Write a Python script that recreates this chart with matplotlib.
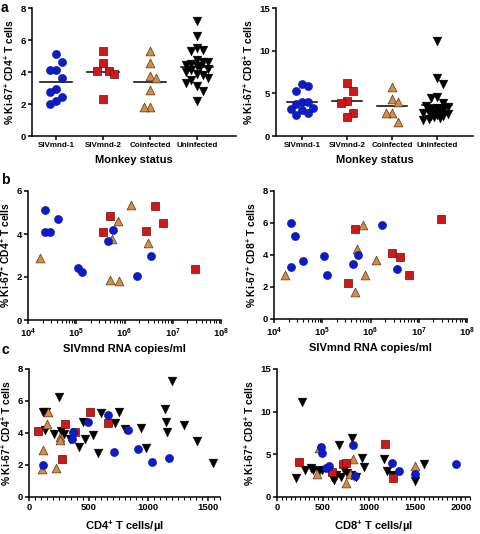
import numpy as np
import matplotlib
matplotlib.use("Agg")
import matplotlib.pyplot as plt
from matplotlib.ticker import MultipleLocator, FixedLocator, LogLocator, NullFormatter

plt.rcParams['font.family'] = ['Liberation Sans', 'DejaVu Sans']
plt.rcParams['font.weight'] = 'bold'
plt.rcParams['mathtext.fontset'] = 'custom'
plt.rcParams['mathtext.rm'] = 'Liberation Sans:bold'
plt.rcParams['mathtext.it'] = 'Liberation Sans:bold'
plt.rcParams['mathtext.bf'] = 'Liberation Sans:bold'
plt.rcParams['mathtext.default'] = 'rm'

# ---------------- data ----------------
groups = ["SIVmnd-1", "SIVmnd-2", "Coinfected", "Uninfected"]

# panel a: % Ki-67+ by monkey status
a_cd4_siv1 = [5.15, 4.65, 4.15, 4.1, 3.65, 2.95, 2.75, 2.45, 2.2, 2.0]
a_cd4_siv2 = [5.3, 4.55, 4.05, 4.05, 3.85, 2.3]
a_cd4_coinf = [5.3, 4.55, 3.75, 3.6, 2.85, 1.8, 1.8]
a_cd4_uninf = [7.2, 6.25, 5.5, 5.35, 5.3, 4.75, 4.65, 4.6, 4.5, 4.45, 4.35, 4.3,
               4.2, 4.1, 4.0, 3.9, 3.8, 3.65, 3.5, 3.3, 3.15, 2.8, 2.2]

a_cd8_siv1 = [6.05, 5.9, 5.25, 4.0, 4.0, 3.7, 3.3, 3.2, 3.1, 2.75, 2.45]
a_cd8_siv2 = [6.25, 5.3, 4.1, 3.85, 2.75, 2.25]
a_cd8_coinf = [5.75, 4.35, 3.95, 2.75, 2.75, 1.6]
a_cd8_uninf = [11.1, 6.8, 6.1, 4.6, 4.4, 3.9, 3.5, 3.4, 3.3, 3.2, 3.1, 3.0,
               2.9, 2.8, 2.7, 2.6, 2.5, 2.4, 2.3, 2.2, 2.1, 2.0, 1.9]

# panel b: vs SIVmnd RNA copies/ml
b_siv1_rna_cd4 = [2.3e4, 2.3e4, 2.8e4, 4.1e4, 1.1e5, 1.3e5, 4.6e5, 5.8e5, 1.8e6, 3.6e6]
b_siv1_cd4 = [5.13, 4.07, 4.1, 4.68, 2.44, 2.23, 3.66, 4.2, 2.04, 2.97]
b_siv2_rna_cd4 = [3.5e5, 5.0e5, 2.8e6, 4.2e6, 6.3e6, 2.95e7]
b_siv2_cd4 = [4.07, 4.84, 4.13, 5.3, 4.53, 2.35]
b_coinf_rna_cd4 = [1.74e4, 5.0e5, 5.6e5, 7.2e5, 7.7e5, 1.35e6, 3.1e6]
b_coinf_cd4 = [2.9, 1.85, 3.75, 4.6, 1.82, 5.36, 3.58]

b_siv1_rna_cd8 = [2.2e4, 2.7e4, 2.2e4, 3.9e4, 1.08e5, 1.26e5, 4.4e5, 5.6e5, 1.7e6, 3.5e6]
b_siv1_cd8 = [6.03, 5.18, 3.23, 3.63, 3.92, 2.78, 3.42, 4.0, 5.87, 3.13]
b_siv2_rna_cd8 = [3.35e5, 4.8e5, 2.76e6, 4.1e6, 6.3e6, 2.9e7]
b_siv2_cd8 = [2.24, 5.64, 4.1, 3.85, 2.76, 6.22]
b_coinf_rna_cd8 = [1.67e4, 4.8e5, 5.2e5, 6.9e5, 7.7e5, 1.28e6]
b_coinf_cd8 = [2.78, 1.66, 4.39, 5.89, 2.78, 3.69]

# panel c: vs absolute counts
c_siv1_cd4cnt = [115, 372, 364, 498, 658, 830, 716, 910, 1031, 1175]
c_siv1_cd4 = [1.99, 4.08, 3.62, 4.67, 5.13, 4.19, 2.79, 2.97, 2.18, 2.41]
c_siv2_cd4cnt = [72, 298, 278, 384, 512, 664]
c_siv2_cd4 = [4.12, 4.54, 2.35, 4.08, 5.32, 4.61]
c_coinf_cd4cnt = [106, 115, 155, 149, 229, 258, 258]
c_coinf_cd4 = [1.78, 2.91, 5.34, 4.56, 1.82, 3.77, 3.55]
c_uninf_cd4cnt = [120, 140, 134, 255, 206, 272, 292, 344, 421, 450, 470, 535, 578,
                  601, 721, 750, 802, 936, 979, 1140, 1150, 1160, 1200, 1300, 1410, 1540]
c_uninf_cd4 = [5.3, 5.3, 4.2, 6.25, 3.95, 4.1, 3.95, 3.62, 3.1, 4.67, 3.64, 3.9, 2.74,
               5.28, 4.63, 5.29, 4.23, 4.32, 3.04, 5.49, 4.71, 4.08, 7.22, 4.5, 3.52, 2.1]

c_siv1_cd8cnt = [480, 490, 530, 570, 830, 850, 1250, 1330, 1500, 1950]
c_siv1_cd8 = [5.9, 5.2, 3.4, 3.6, 6.05, 2.45, 4.0, 3.1, 2.75, 3.9]
c_siv2_cd8cnt = [240, 600, 720, 750, 1180, 1260]
c_siv2_cd8 = [4.1, 2.9, 3.85, 4.0, 6.2, 2.2]
c_coinf_cd8cnt = [455, 430, 750, 790, 830, 1500]
c_coinf_cd8 = [5.8, 2.75, 1.6, 2.75, 4.4, 3.6]
c_uninf_cd8cnt = [270, 210, 300, 370, 390, 460, 490, 600, 615, 640, 680, 700, 730,
                  760, 800, 820, 860, 930, 950, 1160, 1200, 1250, 1500, 1600]
c_uninf_cd8 = [11.1, 2.2, 3.15, 3.4, 3.2, 3.1, 3.2, 2.3, 2.0, 2.6, 6.1, 2.4, 3.2,
               2.8, 2.6, 6.9, 2.4, 4.6, 3.5, 4.5, 3.0, 2.6, 1.9, 3.9]

# ---------------- styles ----------------
STY = {
    "SIVmnd-1": dict(marker="o", s=34, c="#0c1ccc", edgecolors="#0a148f", linewidths=0.4),
    "SIVmnd-2": dict(marker="s", s=30, c="#cc1a1a", edgecolors="#6b0a0a", linewidths=0.5),
    "Coinfected": dict(marker="^", s=40, c="#d48c48", edgecolors="#5a3510", linewidths=0.5),
    "Uninfected": dict(marker="v", s=40, c="#000000", edgecolors="#000000", linewidths=0.3),
}

W, H = 480, 534
fig = plt.figure(figsize=(W / 100, H / 100), dpi=100)


def add_ax(x0, x1, ytop, ybot):
    return fig.add_axes([x0 / W, 1 - ybot / H, (x1 - x0) / W, (ybot - ytop) / H])


def style_ax(ax):
    for s in ("top", "right"):
        ax.spines[s].set_visible(False)
    for s in ("left", "bottom"):
        ax.spines[s].set_linewidth(1.1)
    ax.tick_params(which="major", direction="out", length=3, width=1.1, labelsize=6.8, pad=1.5)
    ax.tick_params(which="minor", direction="out", length=1.8, width=0.8)
    for lab in ax.get_xticklabels() + ax.get_yticklabels():
        lab.set_fontweight("bold")


def swarm(values, ylim, h_px, w_px, xspan, d_px=8.0, kx=0.7, ky=1.5, max_px=15.0):
    """Prism-like bounded spreading of points around the group centre."""
    v = np.asarray(values, float)
    ypx = (v - ylim[0]) / (ylim[1] - ylim[0]) * h_px
    order = np.argsort(-v)
    offs = np.zeros(len(v))
    placed = []
    step = d_px * kx / 2
    nmax = int(max_px // step)
    side = 1
    for i in order:
        cands = [0.0]
        for k in range(1, nmax + 1):
            cands += [side * k * step, -side * k * step]
        best, best_score = 0.0, -1.0
        for c in cands:
            if not placed:
                best, best_score = c, 9.0
                break
            score = min(max(abs(ypx[i] - ypx[j]) / (d_px * ky),
                            abs(c - offs[j]) / (d_px * kx)) for j in placed)
            if score >= 0.99:
                best, best_score = c, score
                break
            if score > best_score + 1e-9:
                best, best_score = c, score
        offs[i] = best
        if best != 0:
            side = -np.sign(best)
        placed.append(i)
    return offs / w_px * xspan


def panel_a(box, series, ylim, yticks, ylabel, xlim, mean_half):
    x0, x1, yt, yb = box
    ax = add_ax(*box)
    w_px, h_px = x1 - x0, yb - yt
    for k, (g, vals) in enumerate(zip(groups, series)):
        offs = swarm(vals, ylim, h_px, w_px, xlim[1] - xlim[0])
        ax.scatter(k + offs, vals, zorder=3, clip_on=False, **STY[g])
        m = np.mean(vals)
        ax.plot([k - mean_half, k + mean_half], [m, m], color="black", lw=1.1, zorder=2)
    ax.set_xlim(*xlim)
    ax.set_ylim(*ylim)
    ax.set_yticks(yticks)
    ax.set_xticks(range(len(groups)))
    ax.set_xticklabels(groups, fontweight="bold")
    ax.set_ylabel(ylabel, fontsize=7.4, fontweight="bold", labelpad=3)
    ax.set_xlabel("Monkey status", fontsize=8, fontweight="bold", labelpad=4)
    style_ax(ax)
    ax.tick_params(axis="x", labelsize=5.8)
    return ax


# ---- panel a ----
axa1 = panel_a((32, 236, 8, 136),
               [a_cd4_siv1, a_cd4_siv2, a_cd4_coinf, a_cd4_uninf],
               (0, 8), [0, 2, 4, 6, 8], "% Ki-67$^{+}$ CD4$^{+}$ T cells",
               (-0.51, 3.83), 0.34)
axa2 = panel_a((276, 473, 8, 136),
               [a_cd8_siv1, a_cd8_siv2, a_cd8_coinf, a_cd8_uninf],
               (0, 15), [0, 5, 10, 15], "% Ki-67$^{+}$ CD8$^{+}$ T cells",
               (-0.58, 3.8), 0.34)


# ---- panel b ----
def panel_b(box, sets, ylim, ystep, ylabel):
    ax = add_ax(*box)
    for g, xs, ys in sets:
        ax.scatter(xs, ys, zorder=3, clip_on=False, **STY[g])
    ax.set_xscale("log")
    ax.set_xlim(1e4, 1e8)
    ax.set_ylim(*ylim)
    ax.yaxis.set_major_locator(MultipleLocator(ystep))
    ax.xaxis.set_major_locator(FixedLocator([1e4, 1e5, 1e6, 1e7, 1e8]))
    ax.set_xticklabels([r"10$^{4}$", r"10$^{5}$", r"10$^{6}$", r"10$^{7}$", r"10$^{8}$"])
    ax.xaxis.set_minor_locator(LogLocator(base=10, subs=np.arange(2, 10)))
    ax.xaxis.set_minor_formatter(NullFormatter())
    ax.set_ylabel(ylabel, fontsize=7.4, fontweight="bold", labelpad=3)
    ax.set_xlabel("SIVmnd RNA copies/ml", fontsize=8, fontweight="bold", labelpad=3)
    style_ax(ax)
    return ax


axb1 = panel_b((28, 221, 191, 320),
               [("Coinfected", b_coinf_rna_cd4, b_coinf_cd4),
                ("SIVmnd-2", b_siv2_rna_cd4, b_siv2_cd4),
                ("SIVmnd-1", b_siv1_rna_cd4, b_siv1_cd4)],
               (0, 6), 2, "% Ki-67$^{+}$ CD4$^{+}$ T cells")
axb2 = panel_b((274, 467, 191, 319),
               [("Coinfected", b_coinf_rna_cd8, b_coinf_cd8),
                ("SIVmnd-2", b_siv2_rna_cd8, b_siv2_cd8),
                ("SIVmnd-1", b_siv1_rna_cd8, b_siv1_cd8)],
               (0, 8), 2, "% Ki-67$^{+}$ CD8$^{+}$ T cells")


# ---- panel c ----
def panel_c(box, sets, xlim, xmaj, xmin, ylim, ystep, ylabel, xlabel):
    ax = add_ax(*box)
    for g, xs, ys in sets:
        ax.scatter(xs, ys, zorder=3, clip_on=False, **STY[g])
    ax.set_xlim(*xlim)
    ax.set_ylim(*ylim)
    ax.xaxis.set_major_locator(MultipleLocator(xmaj))
    ax.xaxis.set_minor_locator(MultipleLocator(xmin))
    ax.yaxis.set_major_locator(MultipleLocator(ystep))
    ax.set_ylabel(ylabel, fontsize=7.4, fontweight="bold", labelpad=3)
    ax.set_xlabel(xlabel, fontsize=8, fontweight="bold", labelpad=5)
    style_ax(ax)
    return ax


axc1 = panel_c((29, 220, 369, 497),
               [("Uninfected", c_uninf_cd4cnt, c_uninf_cd4),
                ("Coinfected", c_coinf_cd4cnt, c_coinf_cd4),
                ("SIVmnd-2", c_siv2_cd4cnt, c_siv2_cd4),
                ("SIVmnd-1", c_siv1_cd4cnt, c_siv1_cd4)],
               (0, 1600), 500, 50, (0, 8), 2,
               "% Ki-67$^{+}$ CD4$^{+}$ T cells", "CD4$^{+}$ T cells/µl")
axc2 = panel_c((277, 470, 369, 497),
               [("Uninfected", c_uninf_cd8cnt, c_uninf_cd8),
                ("Coinfected", c_coinf_cd8cnt, c_coinf_cd8),
                ("SIVmnd-2", c_siv2_cd8cnt, c_siv2_cd8),
                ("SIVmnd-1", c_siv1_cd8cnt, c_siv1_cd8)],
               (0, 2100), 500, 50, (0, 15), 5,
               "% Ki-67$^{+}$ CD8$^{+}$ T cells", "CD8$^{+}$ T cells/µl")

# panel letters
fig.text(1 / W, 1 - 1 / H, "a", fontsize=10, fontweight="bold", va="top", ha="left")
fig.text(1 / W, 1 - 173 / H, "b", fontsize=10, fontweight="bold", va="top", ha="left")
fig.text(1 / W, 1 - 343 / H, "c", fontsize=10, fontweight="bold", va="top", ha="left")

fig.savefig("out.png", dpi=100)
